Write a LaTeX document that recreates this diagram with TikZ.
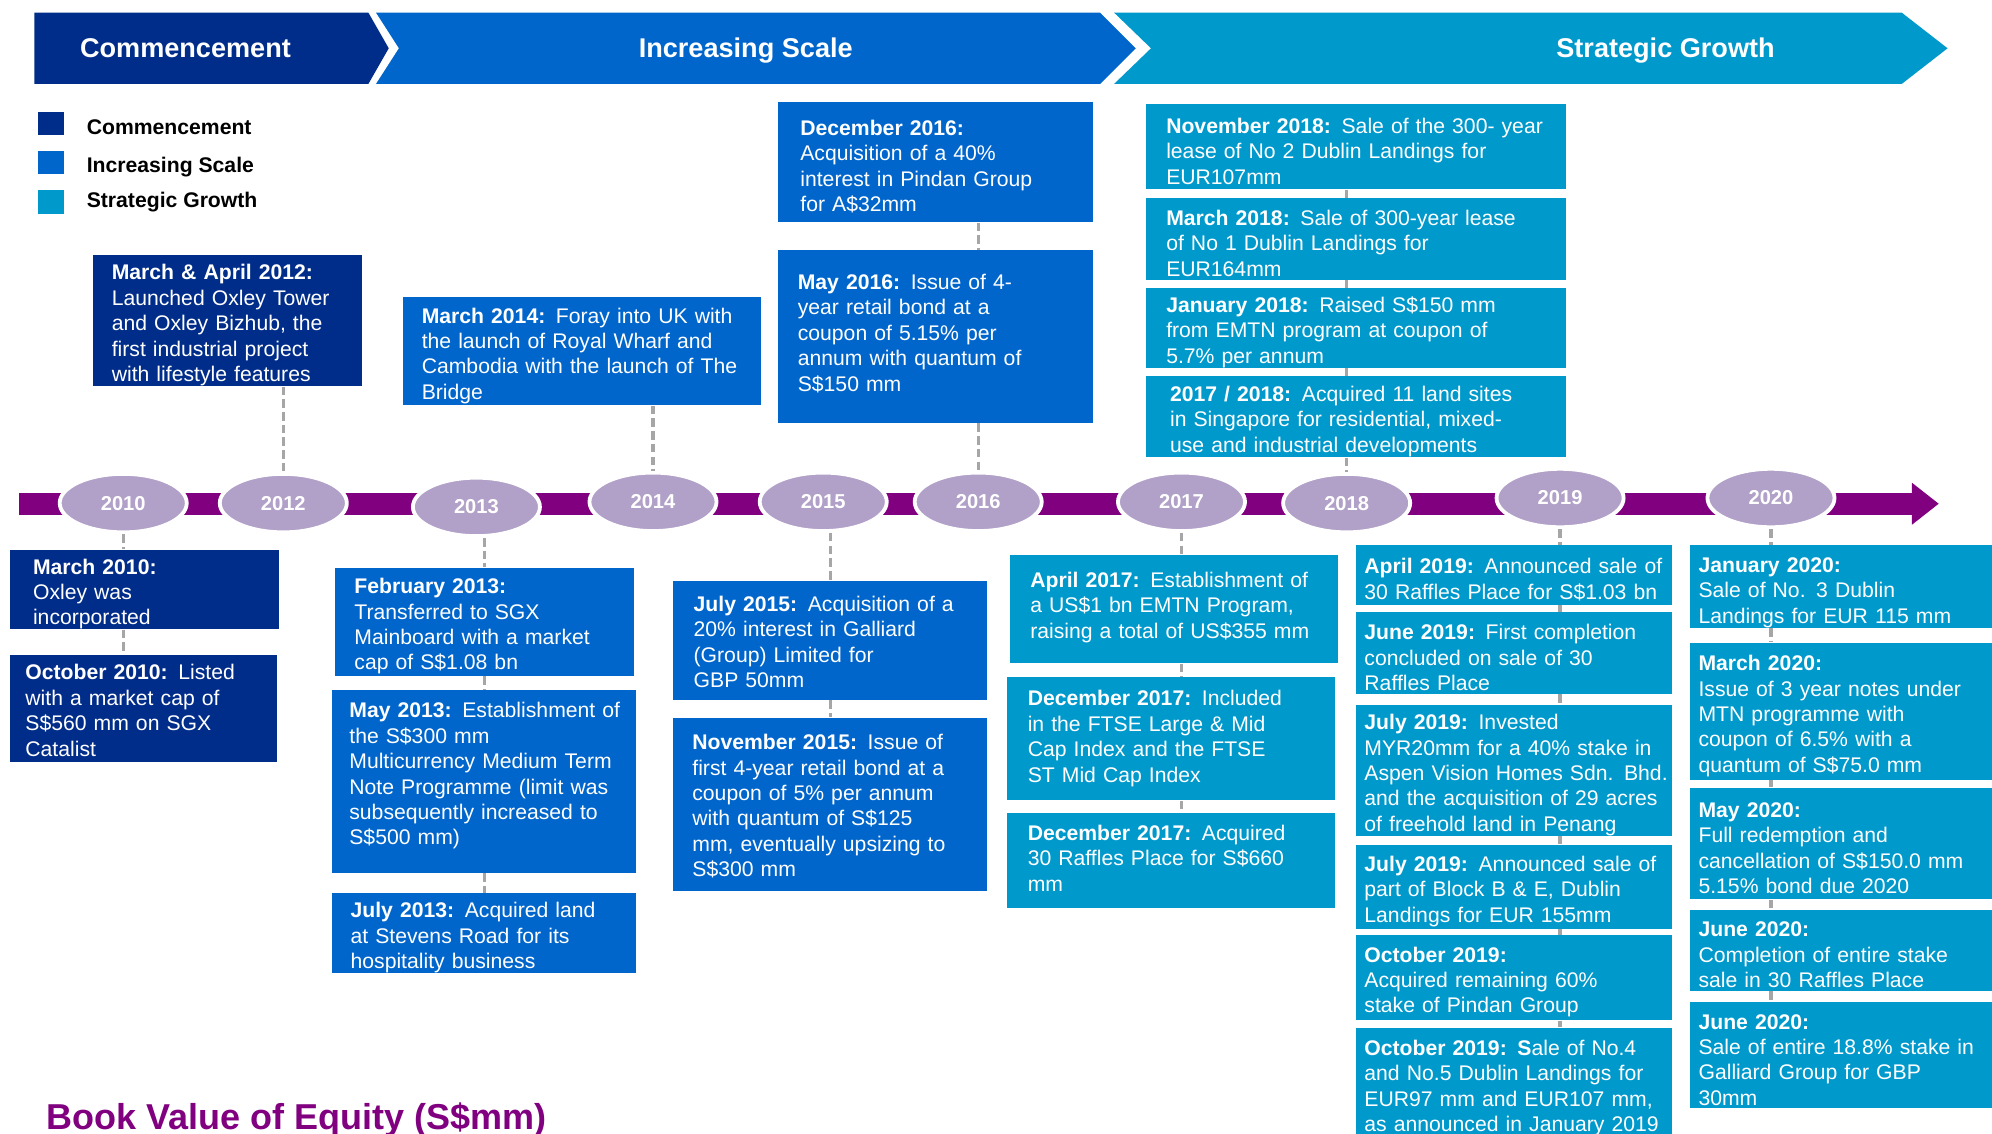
\documentclass[tikz,border=0pt]{standalone}
\usepackage{fontspec}
\setmainfont{Liberation Sans}
\usetikzlibrary{shapes.geometric}

\definecolor{commblue}{RGB}{0,45,137}
\definecolor{scaleblue}{RGB}{0,102,204}
\definecolor{growthblue}{RGB}{0,153,204}
\definecolor{timeline}{RGB}{128,0,128}
\definecolor{yearfill}{RGB}{177,160,199}
\definecolor{linkgray}{RGB}{166,166,166}

\newcommand\evfont{\fontsize{10}{12}\selectfont}
\newcommand\lowgap[1]{\rule[-#1]{0pt}{#1}}

\tikzset{
  ev/.style={rectangle, inner xsep=0pt, inner ysep=0pt, text=white, align=left,
    font=\evfont, execute at begin node={\leftskip=#1\rule{0pt}{11.5pt}}},
  year/.style={ellipse, fill=yearfill, draw=white, line width=1.8pt, minimum width=60pt,
    minimum height=27.6pt, inner sep=0pt, text=white, font=\fontsize{9.5}{11}\selectfont\bfseries},
  link/.style={draw=linkgray, line width=1.6pt, dash pattern=on 4pt off 2pt},
  legsq/.style={minimum width=12pt, minimum height=11pt, inner sep=0pt},
  legtx/.style={anchor=base west, inner sep=0pt, font=\evfont\bfseries},
  banner/.style={anchor=base, inner sep=0pt, text=white, font=\fontsize{12.8}{15}\selectfont\bfseries}
}

\begin{document}
\begin{tikzpicture}[x=0.6pt, y=-0.6pt]
\useasboundingbox (0,0) rectangle (1568,892);

% phase banner
\fill[commblue] (27,10) -- (290,10) -- (306,38) -- (290,66) -- (27,66) -- cycle;
\fill[scaleblue] (296,10) -- (866,10) -- (894,38) -- (866,66) -- (296,66) -- (314,38) -- cycle;
\fill[growthblue] (877,10) -- (1497,10) -- (1533,38) -- (1497,66) -- (877,66) -- (906,38) -- cycle;
\node[banner] (bcom) at (146,45) {Commencement};
\node[banner] (bscale) at (587,45) {Increasing Scale};
\node[banner] (bgrow) at (1311,45) {Strategic Growth};

% legend
\node[legsq, fill=commblue] (sq1) at (40,97) {};
\node[legtx] (lg1) at (68,106) {Commencement};
\node[legsq, fill=scaleblue] (sq2) at (40,128) {};
\node[legtx] (lg2) at (68,135.5) {Increasing Scale};
\node[legsq, fill=growthblue] (sq3) at (40,159) {};
\node[legtx] (lg3) at (68,163.5) {Strategic Growth};

% time line
\fill[timeline] (15,388) rectangle (1506,405);
\fill[timeline] (1505,380) -- (1526,396.5) -- (1505,413) -- cycle;
\node[year] (y10) at (97,396) {2010};
\node[year] (y12) at (223,396) {2012};
\node[year] (y13) at (375,399) {2013};
\node[year] (y14) at (514,395) {2014};
\node[year] (y15) at (648,395) {2015};
\node[year] (y16) at (770,395) {2016};
\node[year] (y17) at (930,395) {2017};
\node[year] (y18) at (1060,396) {2018};
\node[year] (y19) at (1228,392) {2019};
\node[year] (y20) at (1394,392) {2020};

% events above the line
\node[ev=9pt, fill=commblue, text width=127.2pt, minimum height=61.8pt] (apr12) at (179,252.5)
  {\textbf{March \& April 2012:}\\ Launched Oxley Tower\\ and Oxley Bizhub, the\\ first industrial project\\ with lifestyle features};
\node[ev=9pt, fill=scaleblue, text width=169.2pt, minimum height=51pt] (mar14) at (458,276.5)
  {\textbf{March 2014:} Foray into UK with\\ the launch of Royal Wharf and\\ Cambodia with the launch of The\\ Bridge};
\node[ev=10.8pt, fill=scaleblue, text width=148.8pt, minimum height=57pt] (dec16) at (736,127.5)
  {\textbf{December 2016:}\\ Acquisition of a 40\%\\ interest in Pindan Group\\ for A\$32mm};
\node[ev=9.6pt, fill=scaleblue, text width=148.8pt, minimum height=81.6pt] (may16) at (736,265)
  {\textbf{May 2016:} Issue of 4-\\ year retail bond at a\\ coupon of 5.15\% per\\ annum with quantum of\\ S\$150 mm\lowgap{8pt}};
\node[ev=9.6pt, fill=growthblue, text width=198.6pt, minimum height=40.2pt] (nov18) at (1067.5,115.5)
  {\textbf{November 2018:} Sale of the 300- year\\ lease of No 2 Dublin Landings for\\ EUR107mm};
\node[ev=9.6pt, fill=growthblue, text width=198.6pt, minimum height=38.4pt] (mar18) at (1067.5,188)
  {\textbf{March 2018:} Sale of 300-year lease\\ of No 1 Dublin Landings for\\ EUR164mm};
\node[ev=9.6pt, fill=growthblue, text width=198.6pt, minimum height=37.2pt] (jan18) at (1067.5,258)
  {\makebox[172pt][s]{\textbf{January 2018:} Raised S\$150 mm}\\
   \makebox[172pt][s]{from EMTN program at coupon of}\\ 5.7\% per annum};
\node[ev=11.4pt, fill=growthblue, text width=198.6pt, minimum height=38.4pt] (ss1718) at (1067.5,328)
  {\textbf{2017 / 2018:} Acquired 11 land sites\\ in Singapore for residential, mixed-\\ use and industrial developments};

% events below the line
\node[ev=10.8pt, fill=commblue, text width=127.2pt, minimum height=37.2pt] (mar10) at (114,464)
  {\textbf{March 2010:}\\ Oxley was\\ incorporated};
\node[ev=7.2pt, fill=commblue, text width=126pt, minimum height=50.4pt] (oct10) at (113,558)
  {\textbf{October 2010:} Listed\\ with a market cap of\\ S\$560 mm on SGX\\ Catalist\lowgap{3pt}};
\node[ev=9pt, fill=scaleblue, text width=141pt, minimum height=51pt] (feb13) at (381.5,489.5)
  {\textbf{February 2013:}\\ Transferred to SGX\\ Mainboard with a market\\ cap of S\$1.08 bn};
\node[ev=8.4pt, fill=scaleblue, text width=144pt, minimum height=86.4pt] (may13) at (381,615)
  {\textbf{May 2013:} Establishment of\\ the S\$300 mm\\ Multicurrency Medium Term\\ Note Programme (limit was\\ subsequently increased to\\ S\$500 mm)\lowgap{11.4pt}};
\node[ev=9pt, fill=scaleblue, text width=144pt, minimum height=37.8pt] (jul13) at (381,734.5)
  {\textbf{July 2013:} Acquired land\\ at Stevens Road for its\\ hospitality business};
\node[ev=9.6pt, fill=scaleblue, text width=148.2pt, minimum height=56.4pt] (jul15) at (653.5,504)
  {\textbf{July 2015:} Acquisition of a\\ 20\% interest in Galliard\\ (Group) Limited for\\ GBP 50mm\lowgap{3pt}};
\node[ev=9pt, fill=scaleblue, text width=148.2pt, minimum height=81.6pt] (nov15) at (653.5,633)
  {\textbf{November 2015:} Issue of\\ first 4-year retail bond at a\\ coupon of 5\% per annum\\ with quantum of S\$125\\ mm, eventually upsizing to\\ S\$300 mm\lowgap{3pt}};
\node[ev=9.6pt, fill=growthblue, text width=154.8pt, minimum height=51pt] (apr17) at (924,479.5)
  {\textbf{April 2017:} Establishment of\\ a US\$1 bn EMTN Program,\\ raising a total of US\$355 mm\lowgap{8pt}};
\node[ev=9.6pt, fill=growthblue, text width=154.8pt, minimum height=58.2pt] (dec17a) at (922,581.5)
  {\textbf{December 2017:} Included\\ in the FTSE Large \& Mid\\ Cap Index and the FTSE\\ ST Mid Cap Index\lowgap{6.6pt}};
\node[ev=9.6pt, fill=growthblue, text width=154.8pt, minimum height=45pt] (dec17b) at (922,677.5)
  {\textbf{December 2017:} Acquired\\ 30 Raffles Place for S\$660\\ mm\lowgap{6.6pt}};
\node[ev=4.2pt, fill=growthblue, text width=149.4pt, minimum height=28.2pt] (apr19) at (1191.5,452.5)
  {\textbf{April 2019:} Announced sale of\\ 30 Raffles Place for S\$1.03 bn};
\node[ev=4.2pt, fill=growthblue, text width=149.4pt, minimum height=38.4pt] (jun19) at (1191.5,514)
  {\textbf{June 2019:} First completion\\ concluded on sale of 30\\ Raffles Place};
\node[ev=4.2pt, fill=growthblue, text width=149.4pt, minimum height=61.8pt] (jul19a) at (1191.5,606.5)
  {\textbf{July 2019:} Invested\\ MYR20mm for a 40\% stake in\\ Aspen Vision Homes Sdn. Bhd.\\ and the acquisition of 29 acres\\ of freehold land in Penang};
\node[ev=4.2pt, fill=growthblue, text width=149.4pt, minimum height=39.6pt] (jul19b) at (1191.5,698)
  {\textbf{July 2019:} Announced sale of\\ part of Block B \& E, Dublin\\ Landings for EUR 155mm};
\node[ev=4.2pt, fill=growthblue, text width=149.4pt, minimum height=40.2pt] (oct19a) at (1191.5,769.5)
  {\textbf{October 2019:}\\ Acquired remaining 60\%\\ stake of Pindan Group};
\node[ev=4.2pt, fill=growthblue, text width=149.4pt, minimum height=54.6pt] (oct19b) at (1191.5,854.5)
  {\textbf{October 2019: S}ale of No.4\\ and No.5 Dublin Landings for\\ EUR97 mm and EUR107 mm,\\ as announced in January 2019\lowgap{4pt}};
\node[ev=4.2pt, fill=growthblue, text width=147.6pt, minimum height=39pt] (jan20) at (1453,461.5)
  {\rule{0pt}{13pt}\textbf{January 2020:}\\ Sale of No. 3 Dublin\\ Landings for EUR 115 mm};
\node[ev=4.2pt, fill=growthblue, text width=147.6pt, minimum height=64.8pt] (mar20) at (1453,560)
  {\textbf{March 2020:}\\ Issue of 3 year notes under\\ MTN programme with\\ coupon of 6.5\% with a\\ quantum of S\$75.0 mm};
\node[ev=4.2pt, fill=growthblue, text width=147.6pt, minimum height=52.8pt] (may20) at (1453,664)
  {\textbf{May 2020:}\\ Full redemption and\\ cancellation of S\$150.0 mm\\ 5.15\% bond due 2020};
\node[ev=4.2pt, fill=growthblue, text width=147.6pt, minimum height=38.4pt] (jun20a) at (1453,748)
  {\textbf{June 2020:}\\ Completion of entire stake\\ sale in 30 Raffles Place};
\node[ev=4.2pt, fill=growthblue, text width=147.6pt, minimum height=49.8pt] (jun20b) at (1453,830.5)
  {\textbf{June 2020:}\\ Sale of entire 18.8\% stake in\\ Galliard Group for GBP\\ 30mm};

% dashed links
\foreach \a/\b/\c in {apr12/y12/y12, mar14/y14/y14, dec16/may16/y16, may16/y16/y16,
    nov18/mar18/y18, mar18/jan18/y18, jan18/ss1718/y18, ss1718/y18/y18,
    y10/mar10/y10, mar10/oct10/y10, y13/feb13/feb13, feb13/may13/feb13, may13/jul13/feb13,
    y15/jul15/jul15, jul15/nov15/jul15, y17/apr17/y17, apr17/dec17a/y17, dec17a/dec17b/y17,
    y19/apr19/y19, apr19/jun19/y19, jun19/jul19a/y19, jul19a/jul19b/y19, jul19b/oct19a/y19,
    oct19a/oct19b/y19, y20/jan20/y20, jan20/mar20/y20, mar20/may20/y20, may20/jun20a/y20,
    jun20a/jun20b/y20}
  \draw[link] (\a.south -| \c) -- (\b.north -| \c);

\node[anchor=base west, inner sep=0pt, text=timeline, font=\fontsize{17}{20}\selectfont\bfseries] (bve) at (36,889)
  {Book Value of Equity (S\$mm)};
\end{tikzpicture}
\end{document}
